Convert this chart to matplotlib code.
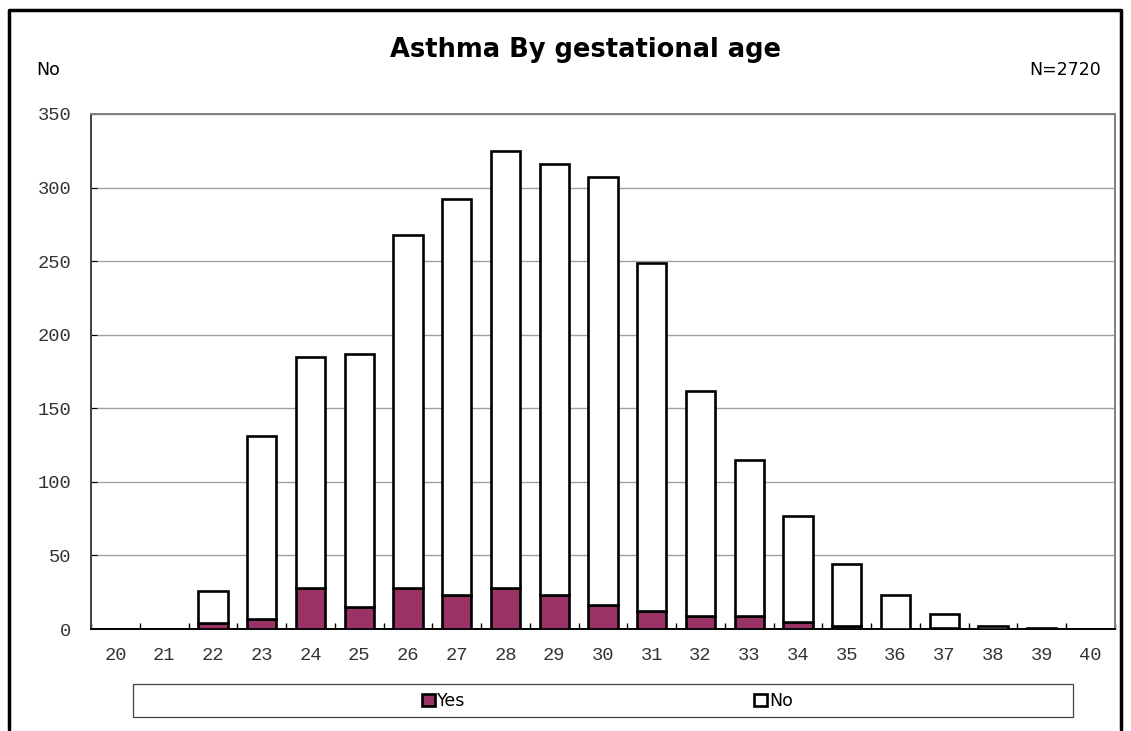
"""
Asthma by gestational age - stacked bars (Yes / No)
"""

import matplotlib
matplotlib.use('Agg')
import matplotlib.pyplot as plt
from matplotlib.patches import Rectangle
import numpy

# Data
weeks = list(range(20, 41))
yes = [0, 0, 4, 7, 28, 15, 28, 23, 28, 23, 16, 12, 9, 9, 5, 2, 0, 1, 0, 0, 0]
total = [0, 0, 26, 131, 185, 187, 268, 292, 325, 316, 307, 249, 162, 115, 77, 44, 23, 10, 2, 1, 0]
no = [t - y for t, y in zip(total, yes)]

# Figure
fig = plt.figure(figsize=(11.31, 7.31), dpi=100)
ax = fig.add_axes([91 / 1131, 102 / 731, 1024 / 1131, 515 / 731])

x = numpy.arange(len(weeks))
mask = numpy.array(total) > 0
b_yes = ax.bar(x[mask], numpy.array(yes)[mask], width=0.6, color='#993366',
               edgecolor='black', linewidth=1.9, label='Yes', zorder=3)
b_no = ax.bar(x[mask], numpy.array(no)[mask], bottom=numpy.array(yes)[mask], width=0.6,
              color='white', edgecolor='black', linewidth=1.9, label='No', zorder=3)

# Axes
ax.set_xlim(-0.5, len(weeks) - 0.5)
ax.set_ylim(0, 350)
ax.set_yticks(range(0, 351, 50))
ax.set_xticks(x)
ax.set_xticklabels([str(w) for w in weeks])
ax.set_xticks(numpy.arange(-0.5, len(weeks), 1), minor=True)
ax.grid(axis='y', color='#a0a0a0', linewidth=1, zorder=0)

for lab in ax.get_xticklabels() + ax.get_yticklabels():
    lab.set_family('Liberation Mono')
    lab.set_fontsize(13.5)
    lab.set_color('#333333')

ax.tick_params(axis='x', which='major', length=0, pad=13)
ax.tick_params(axis='x', which='minor', direction='in', length=4, width=1)
ax.tick_params(axis='y', direction='in', length=4, pad=14)

ax.spines['top'].set_color('#808080')
ax.spines['right'].set_color('#808080')
ax.spines['left'].set_color('#404040')
ax.spines['bottom'].set_color('black')
for s in ax.spines.values():
    s.set_linewidth(1.4)

# Titles
fig.text(585 / 1131, 1 - 50 / 731, 'Asthma By gestational age', ha='center', va='center',
         fontsize=18.5, fontweight='bold')
fig.text(48 / 1131, 1 - 70 / 731, 'No', ha='center', va='center', fontsize=12.5)
fig.text(1101 / 1131, 1 - 70 / 731, 'N=2720', ha='right', va='center', fontsize=12.5)

# Legend box
fig.patches.append(Rectangle((133 / 1131, 1 - 717 / 731), 940 / 1131, 33 / 731,
                             transform=fig.transFigure, facecolor='white',
                             edgecolor='#404040', linewidth=0.9))
fig.legend(handles=[b_yes], labels=['Yes'], loc='center left', frameon=False,
           bbox_to_anchor=(413 / 1131, 1 - 701 / 731), fontsize=12.5,
           handlelength=0.75, handleheight=0.75, handletextpad=0.15, borderpad=0)
fig.legend(handles=[b_no], labels=['No'], loc='center left', frameon=False,
           bbox_to_anchor=(745 / 1131, 1 - 701 / 731), fontsize=12.5,
           handlelength=0.75, handleheight=0.75, handletextpad=0.15, borderpad=0)

# Outer frame (open at the bottom)
fig.lines.append(plt.Line2D([9 / 1131, 9 / 1131, 1121 / 1131, 1121 / 1131],
                            [0, 1 - 10 / 731, 1 - 10 / 731, 0],
                            transform=fig.transFigure, color='black', linewidth=2.5))

plt.savefig('out.png', dpi=100)
plt.close()
